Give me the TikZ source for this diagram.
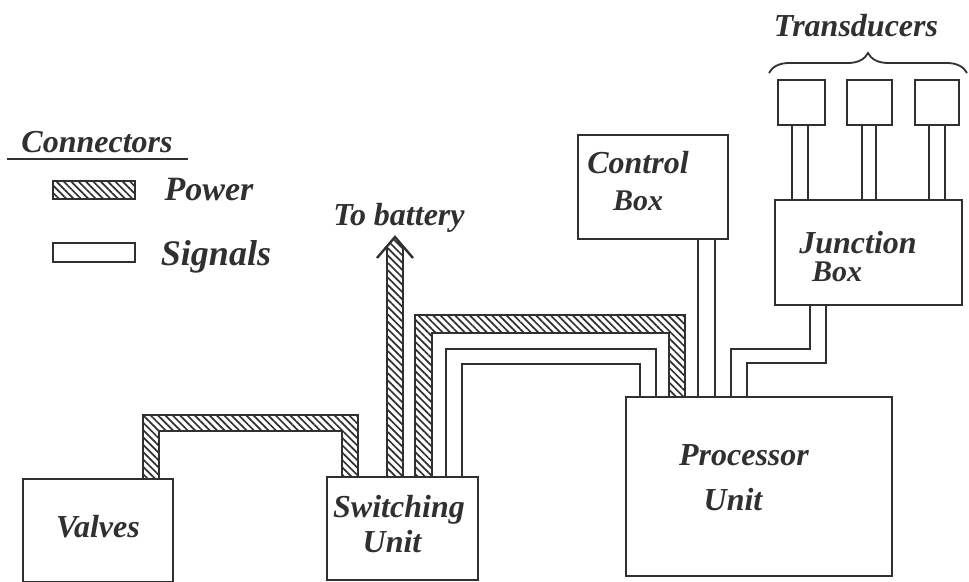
\documentclass[tikz,border=0pt]{standalone}
\usepackage{fontspec}
\setmainfont{Liberation Serif}
\usetikzlibrary{patterns.meta,decorations.pathreplacing,calc}
\definecolor{ink}{HTML}{303030}
\tikzset{
  box/.style={draw=ink, line width=2.6pt, fill=white, inner sep=0pt, outer sep=0pt},
  lbl/.style={text=ink, inner sep=0pt, anchor=base, font=\bfseries\itshape\fontsize{32}{36}\selectfont},
  small/.style={font=\bfseries\itshape\fontsize{30}{34}\selectfont},
  wire/.style={draw=ink, line width=1.9pt, line join=miter},
  hatch/.style={pattern={Lines[angle=-45,distance=5.2pt,line width=1.7pt]}, pattern color=ink},
}
\begin{document}
\begin{tikzpicture}[x=1pt,y=-1pt]
\useasboundingbox (0,0) rectangle (969,581);
\fill[white] (0,0) rectangle (969,581);

% boxes
\node[box, minimum width=150pt, minimum height=103pt] (valves) at (98,530.5) {};
\node[box, minimum width=151pt, minimum height=103pt] (sw) at (402.5,528.5) {};
\node[box, minimum width=266pt, minimum height=179pt] (proc) at (759,486.5) {};
\node[box, minimum width=150pt, minimum height=104pt] (ctrl) at (653,187) {};
\node[box, minimum width=187pt, minimum height=105pt] (jb) at (868.5,252.5) {};
\node[box, minimum width=47pt, minimum height=45pt] (t1) at (801.5,102.5) {};
\node[box, minimum width=45pt, minimum height=45pt] (t2) at (869.5,102.5) {};
\node[box, minimum width=44pt, minimum height=45pt] (t3) at (937,102.5) {};

% power: valves -> switching
\fill[hatch] (143,0 |- valves.north) -- (143,415) -- (358,415) -- (358,0 |- sw.north)
  -- (342,0 |- sw.north) -- (342,431) -- (159,431) -- (159,0 |- valves.north) -- cycle;
\draw[wire] (143,0 |- valves.north) -- (143,415) -- (358,415) -- (358,0 |- sw.north);
\draw[wire] (159,0 |- valves.north) -- (159,431) -- (342,431) -- (342,0 |- sw.north);

% power: to battery
\coordinate (bat) at (395,237);
\fill[hatch] (387,0 |- sw.north) -- (387,246) -- (bat) -- (403,246) -- (403,0 |- sw.north) -- cycle;
\draw[wire] (387,0 |- sw.north) -- (387,246);
\draw[wire] (403,0 |- sw.north) -- (403,246);
\draw[wire, line width=2.4pt] (377,258) -- (bat) -- (413,258);

% power: switching -> processor
\fill[hatch] (415,0 |- sw.north) -- (415,315) -- (685,315) -- (685,0 |- proc.north)
  -- (669,0 |- proc.north) -- (669,333) -- (432,333) -- (432,0 |- sw.north) -- cycle;
\draw[wire] (415,0 |- sw.north) -- (415,315) -- (685,315) -- (685,0 |- proc.north);
\draw[wire] (432,0 |- sw.north) -- (432,333) -- (669,333) -- (669,0 |- proc.north);

% signals: switching -> processor
\draw[wire] (446,0 |- sw.north) -- (446,349) -- (656,349) -- (656,0 |- proc.north);
\draw[wire] (462,0 |- sw.north) -- (462,364) -- (640,364) -- (640,0 |- proc.north);

% signals: control -> processor
\draw[wire] (698,0 |- ctrl.south) -- (698,0 |- proc.north);
\draw[wire] (715,0 |- ctrl.south) -- (715,0 |- proc.north);

% signals: junction -> processor
\draw[wire] (810,0 |- jb.south) -- (810,349) -- (731,349) -- (731,0 |- proc.north);
\draw[wire] (826,0 |- jb.south) -- (826,363) -- (747,363) -- (747,0 |- proc.north);

% signals: transducers -> junction
\draw[wire] (792,0 |- t1.south) -- (792,0 |- jb.north);
\draw[wire] (808,0 |- t1.south) -- (808,0 |- jb.north);
\draw[wire] (862,0 |- t2.south) -- (862,0 |- jb.north);
\draw[wire] (876,0 |- t2.south) -- (876,0 |- jb.north);
\draw[wire] (929,0 |- t3.south) -- (929,0 |- jb.north);
\draw[wire] (945,0 |- t3.south) -- (945,0 |- jb.north);

% redraw box borders on top
\foreach \n in {valves,sw,proc,ctrl,jb,t1,t2,t3}{
  \draw[draw=ink, line width=2.6pt] (\n.north west) rectangle (\n.south east);
}

% brace
\draw[draw=ink, line width=1.8pt, decorate, decoration={brace, amplitude=20pt}] (769,73) -- (967,73);

% labels
\node[lbl] (tTrans) at (856,36) {Transducers};
\node[lbl] (tBat) at (399,225) {To battery};
\node[lbl] (tCtrl) at (638,173) {Control};
\node[lbl, small] (tCtrlB) at (638,210) {Box};
\node[lbl] (tJunc) at (858,253) {Junction};
\node[lbl, small] (tJuncB) at (837,281) {Box};
\node[lbl] (tProc) at (744,465) {Processor};
\node[lbl] (tProcU) at (733,510) {Unit};
\node[lbl] (tValves) at (98,537) {Valves};
\node[lbl] (tSw) at (399,517) {Switching};
\node[lbl] (tSwU) at (392,552) {Unit};

% legend
\node[lbl] (tConn) at (97,152) {Connectors};
\draw[draw=ink, line width=2.4pt] (7,159) -- (188,159);
\node[draw=ink, line width=2pt, hatch, minimum width=82pt, minimum height=18pt, inner sep=0pt] (legP) at (94,190) {};
\node[draw=ink, line width=2pt, fill=white, minimum width=82pt, minimum height=19pt, inner sep=0pt] (legS) at (94,252.5) {};
\node[lbl, font=\bfseries\itshape\fontsize{34}{38}\selectfont] (tPow) at (209,200) {Power};
\node[lbl, font=\bfseries\itshape\fontsize{36}{40}\selectfont] (tSig) at (216,265) {Signals};
\end{tikzpicture}
\end{document}
